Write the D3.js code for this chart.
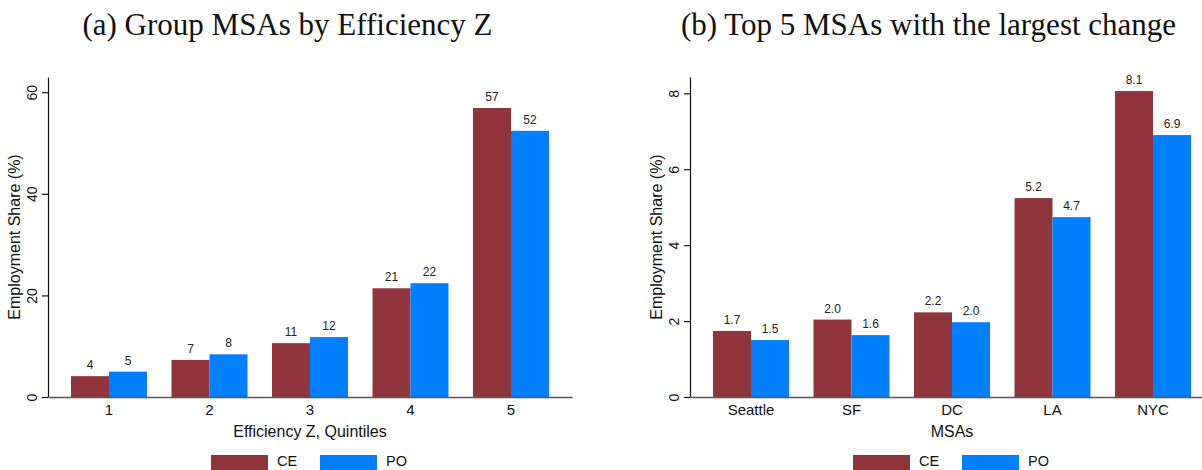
<!DOCTYPE html>
<html>
<head>
<meta charset="utf-8">
<script src="https://cdn.jsdelivr.net/npm/d3@7"></script>
<style>
  html, body { margin: 0; padding: 0; background: #fff; }
  svg { display: block; }
</style>
</head>
<body>
<svg id="chart" width="1202" height="470"></svg>
<script>
// Series shared by both panels
const seriesNames = ["CE", "PO"];
const seriesColors = ["#90353B", "#0080FF"];

// Panel (a): employment share by efficiency quintile
const quintiles = ["1", "2", "3", "4", "5"];
const quintileCE = [4.1, 7.3, 10.6, 21.4, 56.9];
const quintilePO = [5.0, 8.4, 11.8, 22.4, 52.4];
const quintileTicks = [0, 20, 40, 60];

// Panel (b): the five MSAs with the largest change
const msas = ["Seattle", "SF", "DC", "LA", "NYC"];
const msaCE = [1.74, 2.04, 2.23, 5.24, 8.06];
const msaPO = [1.50, 1.63, 1.97, 4.74, 6.90];
const msaTicks = [0, 2, 4, 6, 8];

const svg = d3.select("#chart");
const sans = "'Liberation Sans', Arial, Helvetica, sans-serif";
const serif = "'Liberation Serif', 'Times New Roman', serif";

function drawPanel(opts) {
  const { left, right, top, bottom, categories, ce, po, yMax, ticks, fmt,
          title, titleX, xTitle } = opts;
  const g = svg.append("g");

  const x = d3.scaleBand().domain(categories).range([left, right])
    .paddingInner(0.244).paddingOuter(0.229);
  const xs = d3.scaleBand().domain(seriesNames).range([0, x.bandwidth()]);
  const y = d3.scaleLinear().domain([0, yMax]).range([bottom, top]);

  const rows = categories.map((c, i) => ({ cat: c, vals: [ce[i], po[i]] }));

  // Bars
  const groups = g.selectAll("g.grp").data(rows).join("g")
    .attr("class", "grp")
    .attr("transform", d => `translate(${x(d.cat)},0)`);
  groups.selectAll("rect").data(d => d.vals.map((v, k) => ({ v, k })))
    .join("rect")
    .attr("x", d => xs(seriesNames[d.k]))
    .attr("width", xs.bandwidth())
    .attr("y", d => y(d.v))
    .attr("height", d => y(0) - y(d.v))
    .attr("fill", d => seriesColors[d.k]);

  // Value labels above bars
  groups.selectAll("text").data(d => d.vals.map((v, k) => ({ v, k })))
    .join("text")
    .attr("x", d => xs(seriesNames[d.k]) + xs.bandwidth() / 2)
    .attr("y", d => y(d.v) - 7)
    .attr("text-anchor", "middle")
    .attr("font-family", sans)
    .attr("font-size", 12)
    .attr("fill", "#222")
    .text(d => fmt(d.v));

  // Y axis with rotated tick labels
  const yAxis = g.append("g")
    .attr("transform", `translate(${left},0)`)
    .call(d3.axisLeft(y).tickValues(ticks).tickSize(6).tickSizeOuter(0)
      .tickFormat(d3.format("d")));
  yAxis.select(".domain").attr("stroke", "#111").attr("stroke-width", 1.2);
  yAxis.selectAll(".tick line").attr("stroke", "#111").attr("stroke-width", 1.2);
  yAxis.selectAll(".tick text")
    .attr("x", null).attr("dy", null)
    .attr("text-anchor", "middle")
    .attr("transform", "translate(-11,0) rotate(-90)")
    .attr("font-family", sans)
    .attr("font-size", 14)
    .attr("fill", "#111");

  // Category axis along the baseline
  const xAxis = g.append("g")
    .attr("transform", `translate(0,${bottom})`)
    .call(d3.axisBottom(x).tickSize(0).tickPadding(7));
  xAxis.select(".domain").attr("stroke", "#555").attr("stroke-width", 1.5);
  xAxis.selectAll(".tick text")
    .attr("font-family", sans)
    .attr("font-size", 15)
    .attr("fill", "#111");

  // Axis titles
  g.append("text")
    .attr("transform", `translate(${left - 28},${(top + bottom) / 2}) rotate(-90)`)
    .attr("text-anchor", "middle")
    .attr("font-family", sans)
    .attr("font-size", 16)
    .attr("fill", "#111")
    .text("Employment Share (%)");

  const cx = (left + right) / 2;
  g.append("text")
    .attr("x", cx)
    .attr("y", 437)
    .attr("text-anchor", "middle")
    .attr("font-family", sans)
    .attr("font-size", 16)
    .attr("fill", "#111")
    .text(xTitle);

  // Legend
  const leg = g.append("g");
  seriesNames.forEach((name, k) => {
    const lx = cx - 99 + k * 109;
    leg.append("rect")
      .attr("x", lx).attr("y", 455)
      .attr("width", 57).attr("height", 15)
      .attr("fill", seriesColors[k]);
    leg.append("text")
      .attr("x", lx + 66).attr("y", 466)
      .attr("font-family", sans)
      .attr("font-size", 14.5)
      .attr("fill", "#111")
      .text(name);
  });

  // Panel title
  svg.append("text")
    .attr("x", titleX)
    .attr("y", 35)
    .attr("text-anchor", "middle")
    .attr("font-family", serif)
    .attr("font-size", 31)
    .attr("fill", "#111")
    .text(title);
}

drawPanel({
  left: 48, right: 572, top: 77, bottom: 397,
  categories: quintiles, ce: quintileCE, po: quintilePO,
  yMax: 63, ticks: quintileTicks, fmt: d3.format(".0f"),
  title: "(a) Group MSAs by Efficiency Z", titleX: 287.5,
  xTitle: "Efficiency Z, Quintiles"
});

drawPanel({
  left: 690, right: 1214, top: 77, bottom: 397,
  categories: msas, ce: msaCE, po: msaPO,
  yMax: 8.43, ticks: msaTicks, fmt: d3.format(".1f"),
  title: "(b) Top 5 MSAs with the largest change", titleX: 928.5,
  xTitle: "MSAs"
});
</script>
</body>
</html>
